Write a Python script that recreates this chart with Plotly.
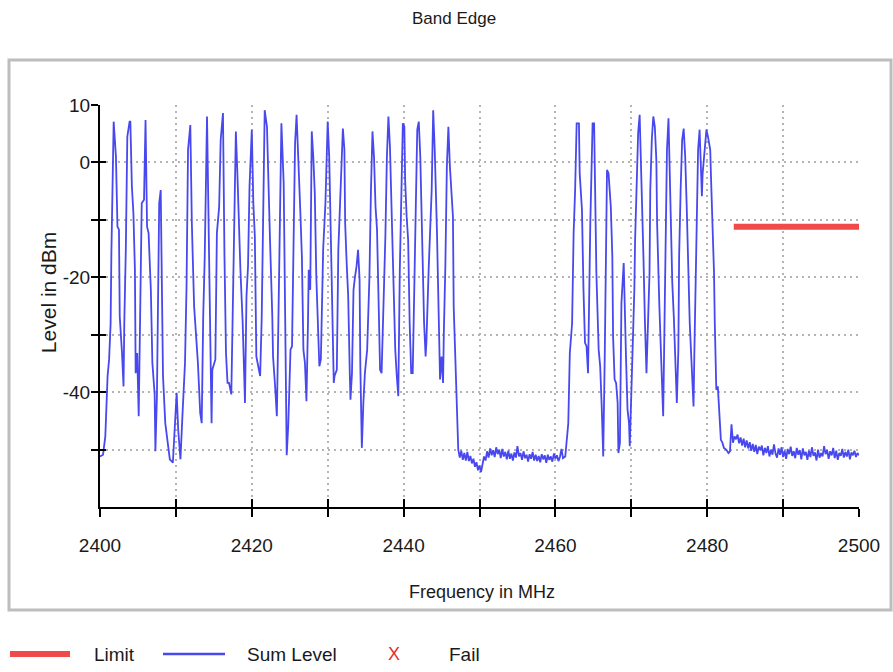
import plotly.graph_objects as go

# ---------------- data ----------------
# Occupied band 1 (2400 - 2447.4 MHz): frequency (MHz) and level (dBm)
band1_freq = [
    2400.0, 2400.4, 2400.7, 2401.0, 2401.2, 2401.4, 2401.5, 2401.7, 2401.8, 2402.1,
    2402.3, 2402.5, 2402.6, 2402.9, 2403.1, 2403.2, 2403.4, 2403.6, 2403.9, 2404.0,
    2404.2, 2404.4, 2404.6, 2404.7, 2404.9, 2405.1, 2405.3, 2405.5, 2405.8, 2406.0,
    2406.2, 2406.4, 2406.7, 2406.9, 2407.2, 2407.3, 2407.5, 2407.7, 2407.8, 2408.0,
    2408.2, 2408.3, 2408.6, 2408.9, 2409.2, 2409.6, 2409.9, 2410.1, 2410.3, 2410.5,
    2410.6, 2410.9, 2411.2, 2411.4, 2411.6, 2411.9, 2412.1, 2412.4, 2412.6, 2412.9,
    2413.2, 2413.4, 2413.6, 2413.8, 2414.1, 2414.3, 2414.5, 2414.7, 2414.8, 2415.2,
    2415.4, 2415.7, 2415.9, 2416.2, 2416.4, 2416.6, 2416.8, 2417.0, 2417.3, 2417.6,
    2417.7, 2417.9, 2418.1, 2418.3, 2418.5, 2418.8, 2419.1, 2419.3, 2419.5, 2419.7,
    2419.9, 2420.0, 2420.2, 2420.4, 2420.6, 2420.9, 2421.1, 2421.3, 2421.5, 2421.7,
    2422.0, 2422.2, 2422.4, 2422.7, 2422.8, 2423.1, 2423.3, 2423.5, 2423.7, 2423.9,
    2424.2, 2424.4, 2424.6, 2424.8, 2425.0, 2425.1, 2425.3, 2425.5, 2425.7, 2425.9,
    2426.1, 2426.4, 2426.6, 2426.8, 2427.0, 2427.2, 2427.4, 2427.5, 2427.7, 2427.8,
    2427.9, 2428.1, 2428.3, 2428.5, 2428.7, 2428.9, 2429.1, 2429.3, 2429.4, 2429.7,
    2429.9, 2430.0, 2430.2, 2430.4, 2430.6, 2430.8, 2430.9, 2431.2, 2431.4, 2431.6,
    2431.8, 2432.0, 2432.2, 2432.3, 2432.5, 2432.7, 2432.9, 2433.0, 2433.2, 2433.4,
    2433.6, 2433.8, 2434.0, 2434.2, 2434.3, 2434.5, 2434.7, 2434.9, 2435.2, 2435.5,
    2435.7, 2435.9, 2436.1, 2436.3, 2436.5, 2436.7, 2436.9, 2437.1, 2437.3, 2437.6,
    2437.8, 2438.0, 2438.2, 2438.4, 2438.6, 2438.9, 2439.1, 2439.3, 2439.5, 2439.7,
    2439.9, 2440.1, 2440.2, 2440.4, 2440.6, 2440.8, 2441.0, 2441.2, 2441.4, 2441.6,
    2441.8, 2442.0, 2442.2, 2442.4, 2442.7, 2442.9, 2443.0, 2443.3, 2443.5, 2443.7,
    2443.9, 2444.1, 2444.4, 2444.6, 2444.8, 2445.0, 2445.2, 2445.3, 2445.5, 2445.7,
    2445.9, 2446.1, 2446.3, 2446.5, 2446.6, 2446.8, 2447.0, 2447.2, 2447.4,
]
band1_level = [
    -51.2, -50.9, -47.7, -37.2, -34.3, -28.0, -15.8, 2.2, 7.1, 1.0,
    -11.2, -11.7, -26.8, -33.2, -39.0, -28.0, -15.2, 4.5, 7.1, 7.1,
    -4.2, -8.8, -18.7, -36.7, -33.2, -44.2, -25.7, -7.1, -6.5, 7.4,
    -11.2, -12.3, -22.2, -34.9, -40.4, -50.3, -40.7, -22.2, -7.1, -4.8,
    -25.7, -37.2, -45.4, -48.8, -51.7, -52.3, -45.4, -40.1, -46.5, -51.2,
    -51.7, -43.0, -34.9, -21.6, 2.2, 6.5, -10.6, -25.1, -29.1, -34.9,
    -43.6, -45.4, -26.8, -16.4, 8.0, -10.6, -33.8, -45.4, -36.1, -34.3,
    -12.3, -7.7, 3.9, 8.6, -16.4, -33.2, -38.4, -38.4, -40.4, -18.7,
    -6.5, 5.4, -1.9, -12.3, -18.7, -28.0, -41.9, -23.3, -18.1, -4.2,
    3.9, 5.7, -7.1, -12.9, -33.8, -35.5, -37.2, -27.4, -4.8, 9.1,
    6.2, -6.5, -13.5, -26.8, -33.8, -39.6, -44.2, -28.0, -10.6, 6.8,
    -3.6, -25.1, -51.0, -45.9, -36.7, -32.6, -32.0, -12.3, 3.3, 8.3,
    2.5, -8.8, -16.4, -32.6, -34.9, -41.6, -28.0, -18.7, -22.2, 2.2,
    5.4, 1.0, -5.4, -19.9, -29.1, -35.5, -34.3, -23.3, -15.2, -7.1,
    1.0, 7.1, 1.0, -13.5, -22.2, -38.4, -37.2, -36.1, -15.2, -7.4,
    1.0, 5.9, 2.2, -10.6, -17.5, -23.3, -36.1, -41.3, -36.7, -22.2,
    -19.9, -18.1, -15.2, -20.4, -35.5, -49.7, -41.9, -36.7, -32.6, -19.9,
    -4.8, 5.4, 1.0, -7.7, -11.7, -23.3, -36.1, -36.7, -28.0, -12.9,
    1.0, 8.0, 2.8, -6.5, -17.5, -32.6, -37.2, -40.7, -18.7, -7.1,
    6.8, 6.2, -3.0, -9.4, -13.5, -28.0, -36.7, -36.7, -25.1, -8.3,
    5.7, 7.1, 1.0, -11.7, -28.0, -33.8, -31.4, -18.7, -11.7, -4.8,
    9.1, 2.2, -12.3, -24.5, -37.8, -33.8, -38.4, -29.7, -18.1, -0.7,
    6.2, -0.7, -4.8, -9.4, -25.1, -33.8, -42.5, -50.0, -51.4,
]

# Noise floor between the two bursts (2447.6 - 2461.0 MHz)
floor1_freq = [
    2447.6, 2447.8, 2448.0, 2448.2, 2448.4, 2448.6, 2448.8, 2449.0, 2449.2, 2449.4,
    2449.6, 2449.8, 2450.0, 2450.2, 2450.4, 2450.6, 2450.8, 2451.0, 2451.2, 2451.4,
    2451.6, 2451.8, 2452.0, 2452.2, 2452.4, 2452.6, 2452.8, 2453.0, 2453.2, 2453.4,
    2453.6, 2453.8, 2454.0, 2454.2, 2454.4, 2454.6, 2454.8, 2455.0, 2455.2, 2455.4,
    2455.6, 2455.8, 2456.0, 2456.2, 2456.4, 2456.6, 2456.8, 2457.0, 2457.2, 2457.4,
    2457.6, 2457.8, 2458.0, 2458.2, 2458.4, 2458.6, 2458.8, 2459.0, 2459.2, 2459.4,
    2459.6, 2459.8, 2460.0, 2460.2, 2460.4, 2460.6, 2460.8, 2461.0,
]
floor1_level = [
    -50.2, -51.8, -50.6, -51.9, -50.4, -52.0, -51.1, -52.4, -51.6, -53.0,
    -52.2, -53.6, -52.8, -53.9, -52.5, -51.2, -51.9, -50.3, -51.4, -49.8,
    -51.0, -50.1, -51.3, -49.6, -50.8, -50.0, -51.5, -49.9, -51.2, -50.4,
    -51.7, -50.2, -51.6, -50.7, -51.9, -50.5, -51.4, -49.4, -51.2, -50.6,
    -51.8, -50.3, -51.5, -50.9, -52.1, -50.8, -51.6, -50.4, -51.9, -50.9,
    -52.0, -51.1, -52.2, -50.8, -51.7, -51.0, -52.3, -50.9, -51.8, -51.2,
    -52.1, -50.7, -51.6, -51.0, -52.0, -51.3, -49.9, -51.5,
]

# Occupied band 2 (2461.3 - 2483.6 MHz)
band2_freq = [
    2461.3, 2461.5, 2461.7, 2461.9, 2462.2, 2462.4, 2462.6, 2462.8, 2463.1, 2463.2,
    2463.5, 2463.7, 2463.9, 2464.1, 2464.3, 2464.6, 2464.8, 2464.9, 2465.1, 2465.3,
    2465.4, 2465.7, 2465.9, 2466.1, 2466.3, 2466.5, 2466.7, 2466.8, 2467.0, 2467.3,
    2467.5, 2467.6, 2467.8, 2468.0, 2468.2, 2468.3, 2468.5, 2468.7, 2469.0, 2469.1,
    2469.3, 2469.5, 2469.7, 2469.8, 2470.0, 2470.2, 2470.4, 2470.5, 2470.7, 2470.9,
    2471.1, 2471.2, 2471.4, 2471.6, 2471.8, 2472.0, 2472.2, 2472.4, 2472.5, 2472.7,
    2472.9, 2473.1, 2473.3, 2473.4, 2473.7, 2473.9, 2474.0, 2474.2, 2474.4, 2474.6,
    2474.7, 2474.9, 2475.1, 2475.3, 2475.4, 2475.6, 2475.8, 2476.0, 2476.2, 2476.3,
    2476.5, 2476.7, 2476.9, 2477.1, 2477.3, 2477.5, 2477.7, 2478.0, 2478.2, 2478.3,
    2478.5, 2478.7, 2478.8, 2479.0, 2479.1, 2479.3, 2479.4, 2479.6, 2479.8, 2479.9,
    2480.1, 2480.4, 2480.5, 2480.7, 2480.9, 2481.0, 2481.1, 2481.2, 2481.4, 2481.6,
    2481.8, 2482.0, 2482.2, 2482.5, 2482.8, 2483.0, 2483.2, 2483.4, 2483.6,
]
band2_level = [
    -51.2, -48.3, -45.4, -33.2, -28.0, -12.3, -4.8, 6.8, 6.8, -1.9,
    -8.3, -22.2, -31.4, -32.0, -36.7, -10.6, 1.0, 6.8, 6.8, -10.6,
    -19.3, -32.6, -35.5, -42.5, -51.2, -33.8, -10.6, -1.3, -1.9, -7.7,
    -16.4, -30.3, -37.8, -38.4, -41.9, -50.6, -48.8, -24.5, -17.5, -25.1,
    -33.8, -43.0, -45.4, -49.4, -39.6, -33.8, -22.2, -13.5, -4.8, 5.1,
    8.3, 2.2, -4.8, -16.4, -28.0, -36.7, -28.0, -19.3, -4.8, 3.9,
    8.0, 6.2, 0.4, -10.6, -25.1, -34.9, -36.7, -44.2, -25.1, -10.6,
    2.2, 7.7, -3.6, -19.9, -21.0, -26.8, -33.8, -41.9, -32.6, -16.4,
    -4.8, 3.9, 5.9, 1.0, -7.7, -17.5, -28.0, -36.7, -42.5, -33.8,
    -18.7, -4.8, 2.2, 5.7, 1.0, -5.9, -1.9, 1.0, 3.3, 5.7,
    4.5, 2.2, -2.5, -10.6, -19.3, -28.0, -34.9, -39.6, -39.0, -43.0,
    -48.3, -48.8, -49.7, -50.0, -50.6, -50.3, -45.6, -48.8, -47.7,
]

# Noise floor above the band edge (2483.8 - 2500 MHz)
floor2_freq = [
    2483.8, 2484.0, 2484.2, 2484.4, 2484.6, 2484.8, 2485.0, 2485.2, 2485.4, 2485.6,
    2485.8, 2486.0, 2486.2, 2486.4, 2486.6, 2486.8, 2487.0, 2487.2, 2487.4, 2487.6,
    2487.8, 2488.0, 2488.2, 2488.4, 2488.6, 2488.8, 2489.0, 2489.2, 2489.4, 2489.6,
    2489.8, 2490.0, 2490.2, 2490.4, 2490.6, 2490.8, 2491.0, 2491.2, 2491.4, 2491.6,
    2491.8, 2492.0, 2492.2, 2492.4, 2492.6, 2492.8, 2493.0, 2493.2, 2493.4, 2493.6,
    2493.8, 2494.0, 2494.2, 2494.4, 2494.6, 2494.8, 2495.0, 2495.2, 2495.4, 2495.6,
    2495.8, 2496.0, 2496.2, 2496.4, 2496.6, 2496.8, 2497.0, 2497.2, 2497.4, 2497.6,
    2497.8, 2498.0, 2498.2, 2498.4, 2498.6, 2498.8, 2499.0, 2499.2, 2499.4, 2499.6,
    2499.8, 2500.0,
]
floor2_level = [
    -48.2, -47.4, -48.9, -47.9, -49.3, -48.1, -49.6, -48.4, -49.8, -48.7,
    -50.2, -49.0, -50.4, -49.2, -50.8, -49.5, -50.1, -49.3, -51.0, -49.7,
    -50.6, -49.4, -51.2, -50.0, -50.9, -49.1, -50.7, -51.4, -49.8, -50.9,
    -49.6, -51.3, -50.2, -51.6, -49.9, -50.8, -49.5, -51.1, -50.3, -51.5,
    -49.7, -50.9, -50.1, -51.7, -49.8, -51.0, -50.4, -51.8, -50.2, -51.3,
    -49.6, -51.1, -50.5, -51.9, -50.0, -51.4, -50.6, -51.2, -49.4, -50.8,
    -50.1, -51.6, -50.3, -51.0, -49.7, -51.5, -50.2, -51.8, -50.6, -51.1,
    -49.9, -51.4, -50.4, -51.2, -50.0, -51.7, -50.5, -51.0, -50.2, -51.3,
    -50.6, -51.0,
]

# Limit line
limit_freq = [2483.5, 2500.0]
limit_level = [-11.2, -11.2]

# Axis ticks
x_tickvals = [2400, 2410, 2420, 2430, 2440, 2450, 2460, 2470, 2480, 2490, 2500]
x_ticktext = ["2400", "", "2420", "", "2440", "", "2460", "", "2480", "", "2500"]
y_tickvals = [10, 0, -10, -20, -30, -40, -50]
y_ticktext = ["10", "0", "", "-20", "", "-40", ""]

# ---------------- figure ----------------
FONT = "Liberation Sans, Arial, sans-serif"
TXT = "#1a1a1a"

sum_freq = band1_freq + floor1_freq + band2_freq + floor2_freq
sum_level = band1_level + floor1_level + band2_level + floor2_level

fig = go.Figure()
fig.add_trace(go.Scatter(
    x=sum_freq, y=sum_level, mode="lines", name="Sum Level",
    line=dict(color="#4848EE", width=1.8), showlegend=False,
))
fig.add_trace(go.Scatter(
    x=limit_freq, y=limit_level, mode="lines", name="Limit",
    line=dict(color="#F04A4A", width=6), showlegend=False,
    xaxis="x2", yaxis="y2",
))

grid = dict(showgrid=True, gridcolor="#b4b4b4", gridwidth=1.5, griddash="2px,4px")

fig.update_layout(
    width=893, height=672,
    margin=dict(l=100, r=34, t=105, b=165),
    paper_bgcolor="white", plot_bgcolor="white",
    showlegend=False,
    xaxis=dict(
        range=[2400, 2500], tickmode="array", tickvals=x_tickvals, ticktext=x_ticktext,
        ticks="outside", ticklen=8, tickwidth=2, tickcolor="black",
        showline=True, linecolor="black", linewidth=2, zeroline=False,
        tickfont=dict(family=FONT, size=19, color=TXT), ticklabelstandoff=12,
        **grid,
    ),
    yaxis=dict(
        range=[-60, 10], tickmode="array", tickvals=y_tickvals, ticktext=y_ticktext,
        ticks="outside", ticklen=7, tickwidth=2, tickcolor="black",
        showline=True, linecolor="black", linewidth=2, zeroline=False,
        tickfont=dict(family=FONT, size=19, color=TXT), ticklabelstandoff=-3,
        **grid,
    ),
    xaxis2=dict(
        range=[2400, 2500], overlaying="x", anchor="y", side="bottom",
        tickmode="array", tickvals=x_tickvals, showticklabels=False,
        ticks="inside", ticklen=8, tickwidth=2, tickcolor="black",
        showgrid=False, showline=False, zeroline=False,
    ),
    yaxis2=dict(
        range=[-60, 10], overlaying="y", anchor="x", side="left",
        tickmode="array", tickvals=y_tickvals, showticklabels=False,
        ticks="inside", ticklen=6, tickwidth=2, tickcolor="black",
        showgrid=False, showline=False, zeroline=False,
    ),
)

# Outer frame
fig.add_shape(type="rect", xref="paper", yref="paper",
              x0=-0.1199, x1=1.0422, y0=-0.2562, y1=1.112,
              line=dict(color="#bdbdbd", width=3), fillcolor="rgba(0,0,0,0)", layer="below")

annotations = [
    dict(text="Band Edge", x=0.4664, y=1.2164, font=dict(family=FONT, size=17, color=TXT),
         xanchor="center", yanchor="middle"),
    dict(text="Frequency in MHz", x=0.503, y=-0.2114, font=dict(family=FONT, size=18, color=TXT),
         xanchor="center", yanchor="middle"),
    dict(text="Level in dBm", x=-0.0685, y=0.532, textangle=-90,
         font=dict(family=FONT, size=21, color=TXT), xanchor="center", yanchor="middle"),
    dict(text="Limit", x=-0.0105, y=-0.3657, font=dict(family=FONT, size=19, color=TXT),
         xanchor="left", yanchor="middle"),
    dict(text="Sum Level", x=0.1910, y=-0.3657, font=dict(family=FONT, size=19, color=TXT),
         xanchor="left", yanchor="middle"),
    dict(text="X", x=0.3874, y=-0.3657, font=dict(family=FONT, size=18, color="#E03030"),
         xanchor="center", yanchor="middle"),
    dict(text="Fail", x=0.4572, y=-0.3657, font=dict(family=FONT, size=19, color=TXT),
         xanchor="left", yanchor="middle"),
]
for a in annotations:
    a.update(xref="paper", yref="paper", showarrow=False)
    fig.add_annotation(**a)

# Legend line samples
fig.add_shape(type="line", xref="paper", yref="paper", x0=-0.1186, x1=-0.0395,
              y0=-0.3657, y1=-0.3657, line=dict(color="#F04A4A", width=6))
fig.add_shape(type="line", xref="paper", yref="paper", x0=0.0830, x1=0.1647,
              y0=-0.3657, y1=-0.3657, line=dict(color="#4848EE", width=2.5))

fig.write_html("out.html", config={"displayModeBar": False},
               post_script="document.body.style.margin='0';")
